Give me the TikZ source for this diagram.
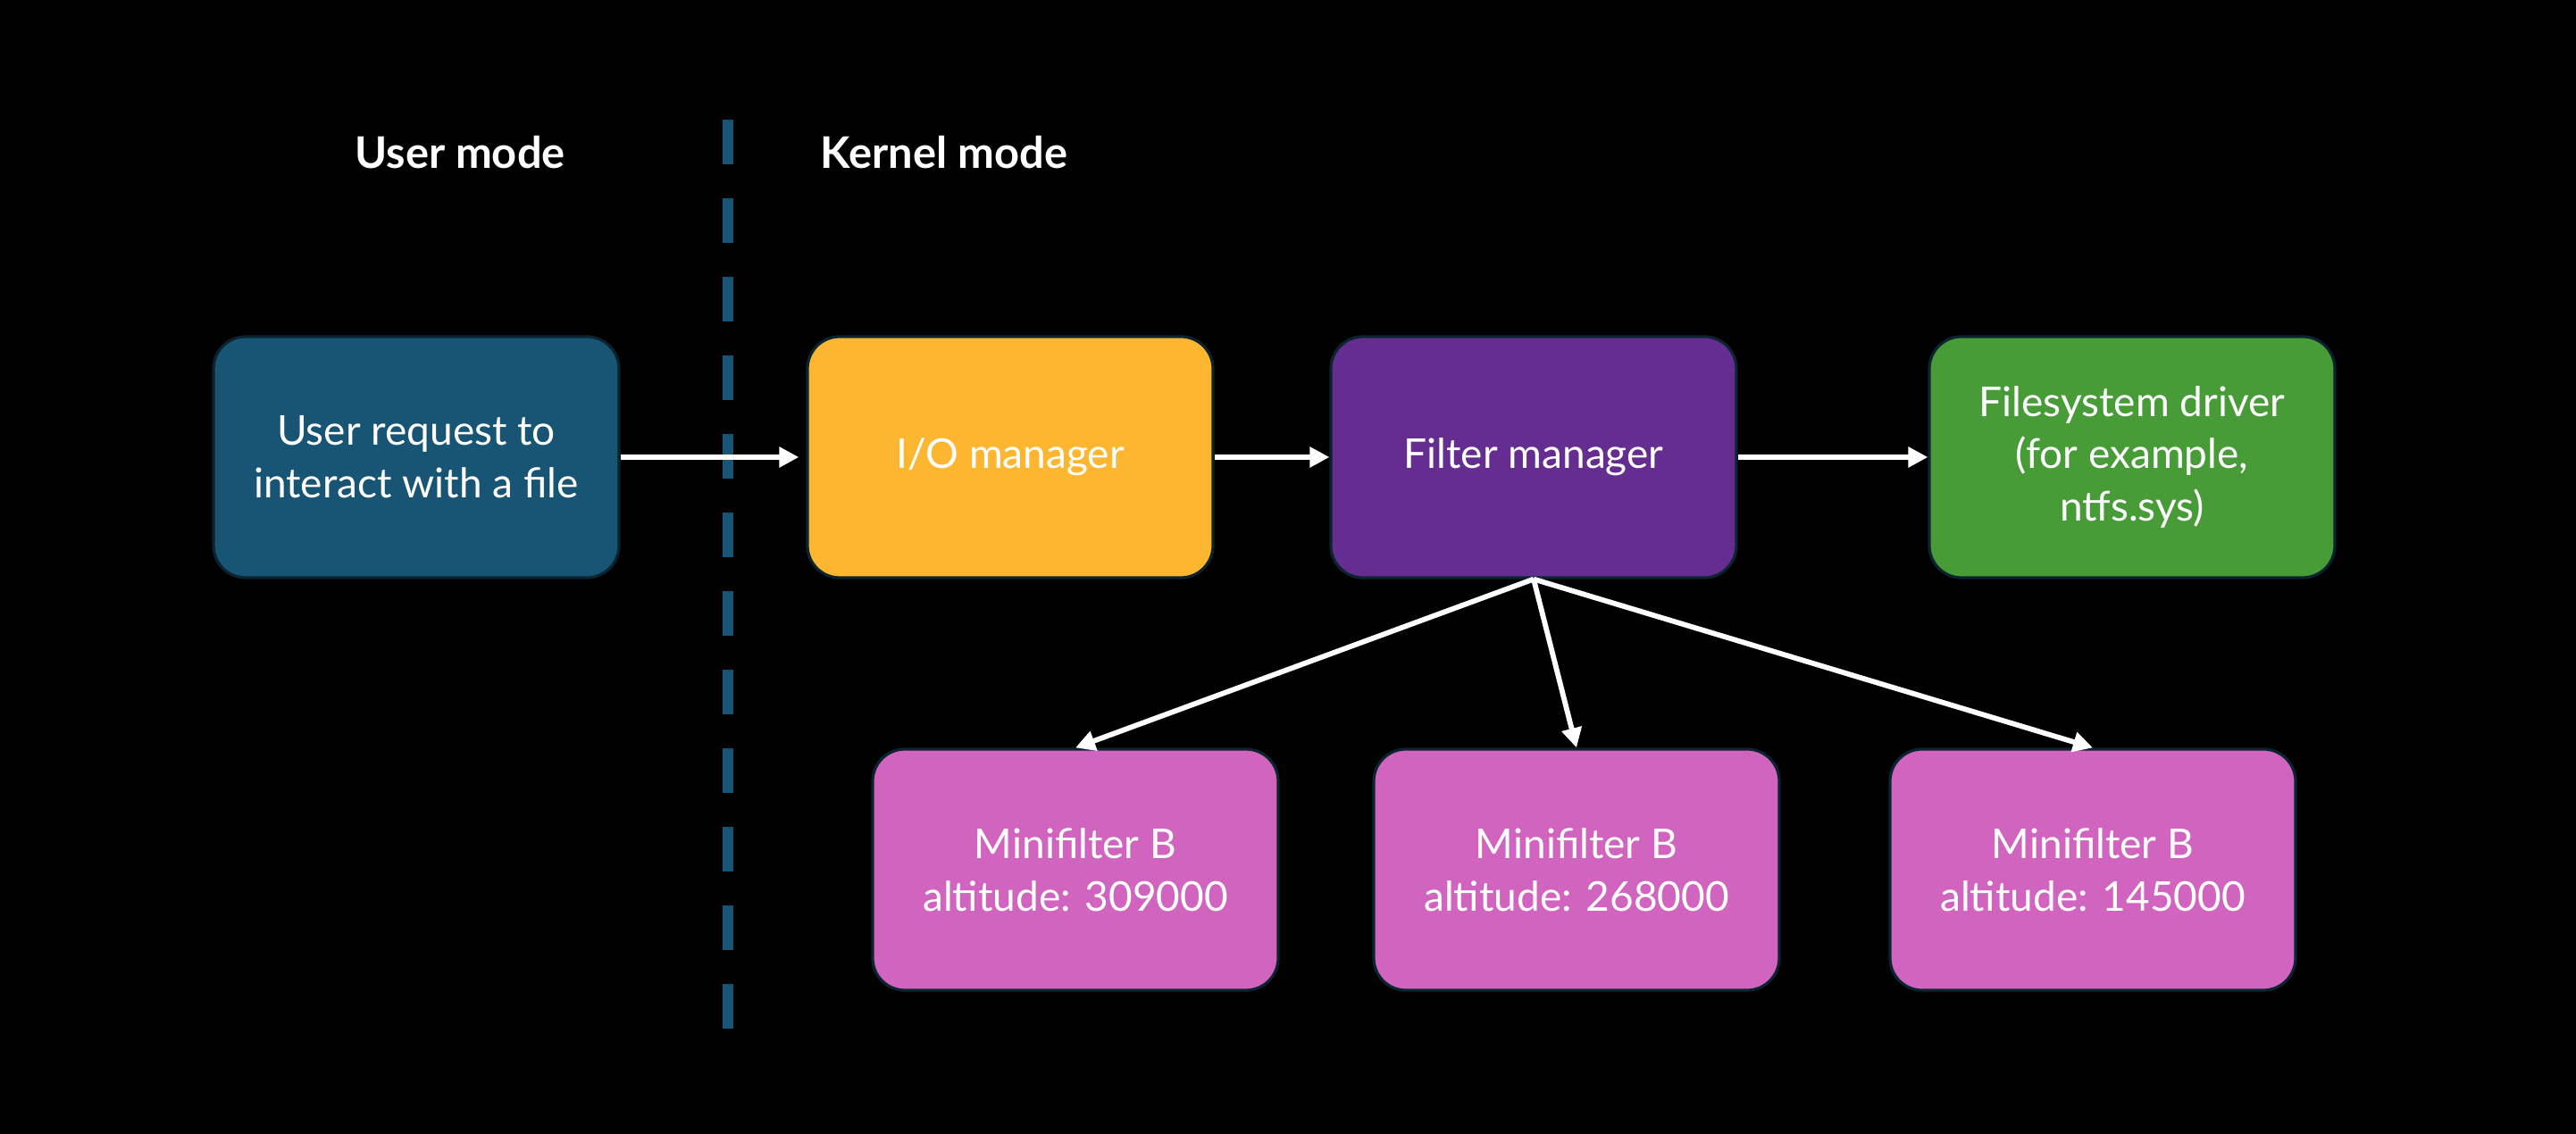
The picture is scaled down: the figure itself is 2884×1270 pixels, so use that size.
\documentclass[tikz,border=0pt]{standalone}
\usepackage{fontspec}
\setmainfont{Lato}
\usetikzlibrary{arrows.meta}
\definecolor{userblue}{HTML}{185474}
\definecolor{ioorange}{HTML}{FDB62F}
\definecolor{fmpurple}{HTML}{652D90}
\definecolor{fsgreen}{HTML}{479C37}
\definecolor{mfpink}{HTML}{D064BF}
\definecolor{edgedark}{HTML}{0C2430}
\begin{document}
\begin{tikzpicture}[x=0.25pt,y=-0.25pt,
  box/.style={draw=edgedark, line width=0.8pt, rounded corners=9pt,
    minimum width=113.5pt, minimum height=67.5pt, align=center,
    text=white, font=\fontsize{11.5}{14.7}\selectfont, inner sep=2pt},
  heading/.style={text=white, font=\fontsize{12.2}{15}\selectfont\bfseries, inner sep=0pt},
  flow/.style={draw=white, line width=1.45pt, -{Triangle[length=5.5pt,width=5.5pt]}},
  divider/.style={draw=userblue, line width=2.8pt, dash pattern=on 12.5pt off 9.5pt}]
\fill[black] (0,0) rectangle (2884,1270);
\useasboundingbox (0,0) rectangle (2884,1270);

\node[heading] (um) at (515,171) {User mode};
\node[heading, anchor=west] (km) at (918,171) {Kernel mode};

\coordinate (dtop) at (815,134);
\coordinate (dbot) at (815,1162);
\draw[divider] (dtop) -- (dbot);

\node[box, fill=userblue] (user) at (466,512) {User request to\\interact with a file};
\node[box, fill=ioorange] (io) at (1131,512) {I/O manager};
\node[box, fill=fmpurple] (fm) at (1717,512) {Filter manager};
\node[box, fill=fsgreen] (fs) at (2387,512) {Filesystem driver\\(for example,\\ntfs.sys)};

\node[box, fill=mfpink] (m1) at (1204,974) {Minifilter B\\altitude: 309000};
\node[box, fill=mfpink] (m2) at (1765,974) {Minifilter B\\altitude: 268000};
\node[box, fill=mfpink] (m3) at (2343,974) {Minifilter B\\altitude: 145000};

\draw[flow] (user.east) -- ([xshift=-2pt]io.west);
\draw[flow] (io.east) -- (fm.west);
\draw[flow] (fm.east) -- (fs.west);
\draw[flow] (fm.south) -- (m1.north);
\draw[flow] (fm.south) -- (m2.north);
\draw[flow] (fm.south) -- (m3.north);
\end{tikzpicture}
\end{document}
